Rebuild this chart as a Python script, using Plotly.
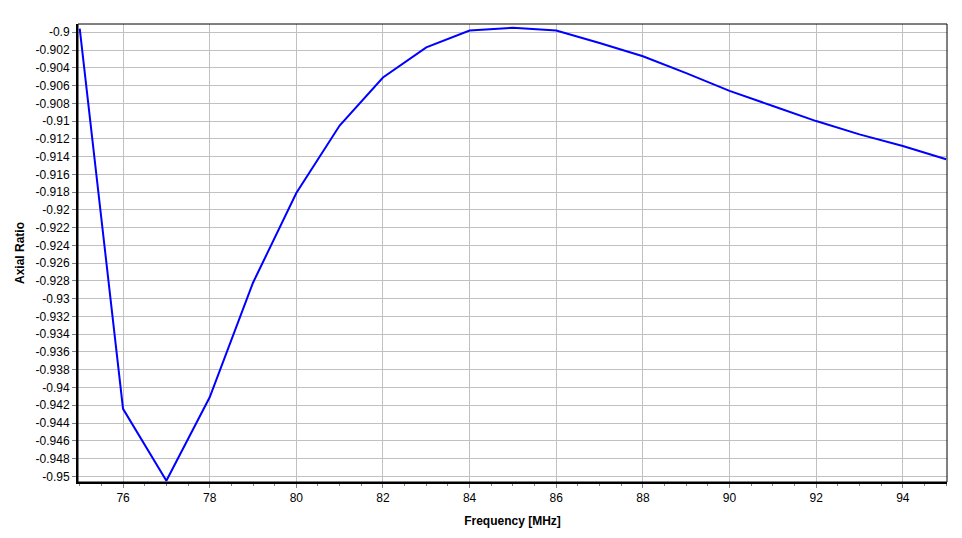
import plotly.graph_objects as go

freq = [75, 76, 77, 78, 79, 80, 81, 82, 83, 84, 85, 86, 87, 88, 89, 90, 91, 92, 93, 94, 95]
axial_ratio = [-0.8996, -0.9424, -0.9505, -0.9411, -0.9282, -0.9181, -0.9105, -0.9051, -0.9017,
               -0.8998, -0.8995, -0.8998, -0.9012, -0.9027, -0.9046, -0.9066, -0.9083, -0.9100,
               -0.9115, -0.9128, -0.9143]

y_tick_vals = [-0.9 - 0.002 * i for i in range(26)]
y_tick_text = ["-0.9", "-0.902", "-0.904", "-0.906", "-0.908", "-0.91", "-0.912", "-0.914",
               "-0.916", "-0.918", "-0.92", "-0.922", "-0.924", "-0.926", "-0.928", "-0.93",
               "-0.932", "-0.934", "-0.936", "-0.938", "-0.94", "-0.942", "-0.944", "-0.946",
               "-0.948", "-0.95"]

fig = go.Figure()
fig.add_trace(go.Scatter(x=freq, y=axial_ratio, mode="lines",
                         line=dict(color="#0000ff", width=2), hoverinfo="x+y"))

font = dict(family="Liberation Sans, Arial, sans-serif", size=12, color="#000000")

fig.update_layout(
    width=962, height=538,
    margin=dict(l=70, r=23, t=16, b=64),
    paper_bgcolor="#ffffff", plot_bgcolor="#ffffff",
    showlegend=False,
    font=font,
    xaxis=dict(
        range=[74.96, 95.02], dtick=2, tick0=0,
        automargin=False,
        showgrid=True, gridcolor="#c0c0c0", gridwidth=1,
        zeroline=False,
        showline=True, linecolor="#000000", linewidth=2,
        ticks="outside", ticklen=4, tickcolor="#808080", tickwidth=1,
        minor=dict(dtick=0.5, ticks="outside", ticklen=2, tickcolor="#808080", showgrid=False),
        tickfont=font,
        title=dict(text="<b>Frequency [MHz]</b>", font=font, standoff=12),
    ),
    yaxis=dict(
        range=[-0.95064, -0.89907],
        automargin=False,
        tickmode="array", tickvals=y_tick_vals, ticktext=y_tick_text,
        showgrid=True, gridcolor="#c0c0c0", gridwidth=1,
        zeroline=False,
        showline=True, linecolor="#000000", linewidth=2,
        ticks="outside", ticklen=4, tickcolor="#808080", tickwidth=1,
        tickfont=font,
        title=dict(text="<b>Axial Ratio</b>", font=font, standoff=8),
    ),
)

fig.add_shape(type="rect", xref="paper", yref="paper", x0=0, y0=0, x1=1, y1=1,
              line=dict(color="#000000", width=1), fillcolor="rgba(0,0,0,0)", layer="above")

fig.write_html("out.html")
